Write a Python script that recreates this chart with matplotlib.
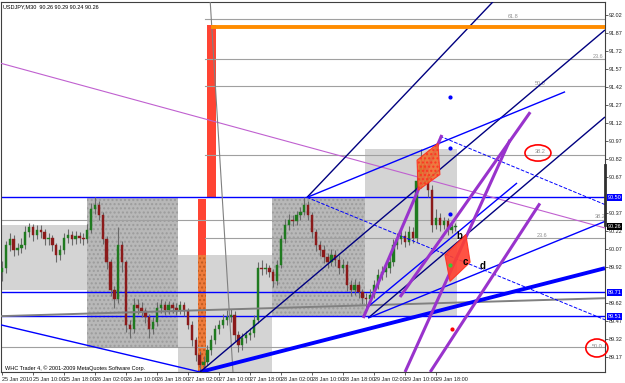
import matplotlib
matplotlib.use("Agg")
import matplotlib.pyplot as plt
import numpy as np
from matplotlib.patches import Rectangle, Polygon, Ellipse
from matplotlib.transforms import blended_transform_factory

plt.rcParams["font.family"] = ["Liberation Sans", "DejaVu Sans"]

# hourly candles, hours since 25 Jan 02:00
closes = [89.91, 90.10, 90.15, 90.06, 90.08, 90.10, 90.21, 90.25, 90.19, 90.23,
          90.21, 90.15, 90.16, 90.10, 90.02, 90.06, 90.16, 90.19, 90.15, 90.18,
          90.16, 90.15, 90.23, 90.40, 90.44, 90.35, 90.15, 89.96, 89.73, 89.65,
          90.10, 89.96, 89.44, 89.40, 89.60, 89.58, 89.55, 89.50, 89.40, 89.46,
          89.58, 89.60, 89.56, 89.60, 89.58, 89.56, 89.60, 89.55, 89.44, 89.31,
          89.19, 89.10, 89.13, 89.23, 89.31, 89.40, 89.44, 89.48, 89.50, 89.52,
          89.35, 89.27, 89.33, 89.35, 89.37, 89.48, 89.91, 89.90, 89.91, 89.88,
          89.80, 89.94, 90.15, 90.27, 90.31, 90.30, 90.35, 90.38, 90.44, 90.35,
          90.21, 90.10, 90.06, 90.00, 89.96, 90.02, 89.98, 89.91, 89.94, 89.77,
          89.73, 89.77, 89.71, 89.66, 89.65, 89.69, 89.77, 89.85, 89.88, 89.91,
          89.96, 90.10, 90.15, 90.18, 90.13, 90.21, 90.16, 90.64, 90.77, 90.69,
          90.56, 90.27, 90.33, 90.27, 90.30, 90.23, 90.25, 90.26]
highs = [89.97, 90.14, 90.20, 90.19, 90.12, 90.16, 90.26, 90.29, 90.28, 90.27,
         90.27, 90.24, 90.20, 90.19, 90.12, 90.10, 90.20, 90.24, 90.22, 90.22,
         90.21, 90.20, 90.28, 90.45, 90.50, 90.47, 90.38, 90.18, 89.99, 89.76,
         90.25, 90.14, 89.98, 89.48, 89.66, 89.65, 89.63, 89.58, 89.53, 89.50,
         89.63, 89.65, 89.64, 89.64, 89.63, 89.62, 89.64, 89.63, 89.58, 89.47,
         89.34, 89.22, 89.18, 89.27, 89.35, 89.44, 89.48, 89.53, 89.56, 89.57,
         89.55, 89.39, 89.37, 89.39, 89.41, 89.52, 89.96, 89.98, 89.95, 89.94,
         89.90, 89.98, 90.19, 90.32, 90.36, 90.35, 90.39, 90.42, 90.50, 90.47,
         90.38, 90.24, 90.14, 90.10, 90.04, 90.07, 90.06, 90.02, 89.99, 89.97,
         89.81, 89.82, 89.80, 89.74, 89.70, 89.74, 89.81, 89.90, 89.93, 89.96,
         90.01, 90.15, 90.20, 90.23, 90.22, 90.26, 90.25, 90.72, 90.90, 90.84,
         90.74, 90.60, 90.40, 90.37, 90.34, 90.33, 90.29, 90.29]
lows = [89.80, 89.87, 90.05, 90.01, 90.02, 90.04, 90.07, 90.17, 90.14, 90.15,
        90.16, 90.10, 90.10, 90.05, 89.96, 89.98, 90.03, 90.12, 90.10, 90.11,
        90.12, 90.10, 90.12, 90.20, 90.36, 90.31, 90.11, 89.90, 89.68, 89.58,
        89.62, 89.88, 89.38, 89.33, 89.37, 89.53, 89.50, 89.45, 89.33, 89.36,
        89.43, 89.54, 89.52, 89.53, 89.54, 89.52, 89.53, 89.51, 89.40, 89.26,
        89.14, 89.06, 89.07, 89.10, 89.19, 89.28, 89.36, 89.41, 89.44, 89.46,
        89.30, 89.21, 89.23, 89.29, 89.31, 89.34, 89.45, 89.85, 89.86, 89.84,
        89.75, 89.77, 89.91, 90.12, 90.23, 90.26, 90.27, 90.31, 90.35, 90.31,
        90.16, 90.05, 90.01, 89.95, 89.91, 89.93, 89.93, 89.86, 89.87, 89.72,
        89.68, 89.69, 89.66, 89.61, 89.58, 89.61, 89.66, 89.74, 89.81, 89.84,
        89.87, 89.93, 90.07, 90.11, 90.09, 90.10, 90.12, 90.13, 90.58, 90.62,
        90.50, 90.21, 90.24, 90.22, 90.24, 90.19, 90.20, 90.22]
first_open = 89.88

time_labels = ["25 Jan 2010", "25 Jan 10:00", "25 Jan 18:00", "26 Jan 02:00",
               "26 Jan 10:00", "26 Jan 18:00", "27 Jan 02:00", "27 Jan 10:00",
               "27 Jan 18:00", "28 Jan 02:00", "28 Jan 10:00", "28 Jan 18:00",
               "29 Jan 02:00", "29 Jan 10:00", "29 Jan 18:00"]
time_ticks = [0, 8, 16, 24, 32, 40, 48, 56, 64, 72, 80, 88, 96, 104, 112]
price_ticks = [92.02, 91.87, 91.72, 91.57, 91.42, 91.27, 91.12, 90.97, 90.82,
               90.67, 90.37, 90.22, 90.07, 89.92, 89.62, 89.47, 89.32, 89.17]

# rectangles: (t0, t1, p0, p1)
light_boxes = [(-0.6, 21.9, 89.73, 90.27), (45.4, 69.7, 89.0, 90.02),
               (93.7, 117.4, 89.50, 90.90)]
dark_boxes = [(21.9, 45.4, 89.25, 90.50), (69.7, 93.7, 89.50, 90.50)]
red_boxes = [(52.9, 55.2, 90.50, 91.94), (50.6, 52.6, 89.0, 90.49)]

blue_levels = [90.50, 89.71, 89.51]
fib_levels = [91.99, 91.65, 91.43, 90.85, 90.16]
fib_full_levels = [90.31, 89.25]
fib_texts = [("61.8", 131.9, 92.01), ("23.6", 153.8, 91.67), ("50.0", 138.8, 91.45),
             ("38.2", 138.8, 90.88), ("23.6", 139.4, 90.18), ("38.2", 154.3, 90.34),
             ("50.0", 153.5, 89.26)]

# trend lines: ((t0, p0), (t1, p1), colour, width, style)
lines = [
    ((-0.6, 91.62), (155.6, 90.245), "#c060d0", 0.8, "-"),
    ((53.7, 92.145), (59.6, 89.045), "#808080", 0.8, "-"),
    ((-0.6, 89.51), (155.6, 89.66), "#808080", 1.4, "-"),
    ((-0.6, 89.44), (51.1, 89.045), "#0000ff", 1.0, "-"),
    ((51.1, 89.045), (155.6, 89.91), "#0000ff", 2.8, "-"),
    ((51.1, 89.045), (155.6, 91.895), "#000080", 1.0, "-"),
    ((94.5, 89.495), (155.6, 91.17), "#000080", 1.0, "-"),
    ((78.7, 90.50), (126.7, 92.13), "#000080", 1.0, "-"),
    ((78.7, 90.50), (145.3, 91.38), "#0000ff", 1.0, "-"),
    ((94.5, 89.59), (132.9, 90.62), "#0000ff", 1.0, "-"),
    ((94.5, 89.495), (155.6, 90.30), "#0000ff", 1.0, "-"),
    ((78.7, 90.50), (155.6, 89.48), "#0000ff", 0.7, "--"),
    ((113.0, 91.01), (155.6, 90.44), "#0000ff", 0.7, "--"),
    ((93.2, 89.495), (113.5, 91.02), "#9933cc", 2.2, "-"),
    ((102.7, 89.67), (136.3, 91.21), "#9933cc", 2.2, "-"),
    ((104.0, 89.045), (131.1, 90.98), "#9933cc", 2.2, "-"),
    ((110.5, 89.045), (138.8, 90.45), "#9933cc", 2.2, "-"),
]
orange_level = (54.5, 91.92)

zone1 = [(107.1, 90.81), (112.5, 90.95), (113.0, 90.69), (107.4, 90.56)]
zone2 = [(114.3, 90.02), (119.7, 90.19), (120.8, 89.96), (115.6, 89.80)]
blue_dots = [(115.6, 91.34), (115.6, 90.91), (115.6, 90.36)]
red_dots = [(116.1, 89.40)]
green_dots = [(115.6, 89.94)]
letters = [("b", 117.9, 90.18), ("c", 119.5, 89.96), ("d", 124.1, 89.93)]
circles = [(138.3, 90.87, 6.7, 0.135), (153.5, 89.245, 5.7, 0.15)]

fig = plt.figure(figsize=(6.25, 3.83), dpi=100)
ax = fig.add_axes([1 / 625, 1 - 372 / 383, 604 / 625, 370 / 383])
ax.set_xlim(-0.26, 155.6)
ax.set_ylim(89.045, 92.128)
ax.set_facecolor("white")

for t0, t1, p0, p1 in light_boxes:
    ax.add_patch(Rectangle((t0, p0), t1 - t0, p1 - p0, facecolor="#d4d4d4",
                           edgecolor="none", zorder=0))
for t0, t1, p0, p1 in dark_boxes:
    ax.add_patch(Rectangle((t0, p0), t1 - t0, p1 - p0, facecolor="#b8b8b8",
                           edgecolor="#9c9c9c", hatch="....", lw=0, zorder=0))
for t0, t1, p0, p1 in red_boxes:
    ax.add_patch(Rectangle((t0, p0), t1 - t0, p1 - p0, facecolor="#ff4433",
                           edgecolor="none", zorder=0.5))
# lower part of the left red box sits on the grey box, looks orange
rb = red_boxes[1]
ax.add_patch(Rectangle((rb[0], rb[2]), rb[1] - rb[0], 90.02 - rb[2], facecolor="#ee7a3a",
                       edgecolor="#c05a20", hatch="....", lw=0, zorder=0.6))

for p in fib_levels:
    ax.plot([52.4, 155.6], [p, p], color="#a0a0a0", lw=0.8, zorder=1)
for p in fib_full_levels:
    ax.plot([-0.6, 155.6], [p, p], color="#a0a0a0", lw=0.8, zorder=1)
for txt, t, p in fib_texts:
    ax.text(t, p, txt, fontsize=4, color="#909090", ha="center", va="center", zorder=1)

for p in blue_levels:
    ax.plot([-0.6, 155.6], [p, p], color="#0000ff", lw=1.0, zorder=2)

# candles
opens = [first_open] + closes[:-1]
hours = np.arange(len(closes))
ax.vlines(hours, lows, highs, color="#6a6a6a", lw=0.8, zorder=3)
for h, o, c in zip(hours, opens, closes):
    col = "#1f7a1f" if c >= o else "#8b1a1a"
    ax.add_patch(Rectangle((h - 0.3, min(o, c)), 0.6, max(abs(c - o), 0.01),
                           facecolor=col, edgecolor=col, lw=0.3, zorder=3.5))

for (t0, p0), (t1, p1), col, lw, ls in lines:
    ax.plot([t0, t1], [p0, p1], color=col, lw=lw, ls=ls, zorder=4,
            solid_capstyle="butt")

ax.plot([orange_level[0], 155.6], [orange_level[1]] * 2, color="#ff8c00", lw=2.8,
        zorder=4)

ax.add_patch(Polygon(zone1, closed=True, facecolor="#f07030", edgecolor="#ff3020",
                     hatch="....", lw=0.8, zorder=5, alpha=0.9))
ax.add_patch(Polygon(zone2, closed=True, facecolor="#ff4030", edgecolor="#ff3020",
                     lw=0.8, zorder=5, alpha=0.9))

for t, p in blue_dots:
    ax.plot(t, p, "o", color="#0000ff", ms=2, zorder=6)
for t, p in red_dots:
    ax.plot(t, p, "o", color="#ff0000", ms=2, zorder=6)
for t, p in green_dots:
    ax.plot(t, p, "o", color="#33cc33", ms=2, zorder=6)
for txt, t, p in letters:
    ax.text(t, p, txt, fontsize=7, fontweight="bold", color="black", ha="center",
            va="center", zorder=7)
for t, p, w, hgt in circles:
    ax.add_patch(Ellipse((t, p), w, hgt, fill=False, edgecolor="#ff0000", lw=1.2,
                         zorder=7, clip_on=False))

# axes look
for s in ax.spines.values():
    s.set_color("#404040")
    s.set_linewidth(0.8)
ax.yaxis.tick_right()
ax.set_yticks(price_ticks)
ax.set_yticklabels([f"{p:.2f}" for p in price_ticks], fontsize=4)
ax.tick_params(axis="y", length=2, width=0.5, pad=1, colors="#202020")
ax.set_xticks(time_ticks)
ax.set_xticklabels(time_labels, fontsize=4, ha="left")
ax.tick_params(axis="x", length=2, width=0.5, pad=1.5, colors="#202020")

trans = blended_transform_factory(ax.transAxes, ax.transData)
for p, face in [(90.50, "#0000ff"), (89.71, "#0000ff"), (89.51, "#0000ff"),
                (90.26, "#000000")]:
    ax.text(1.004, p, f"{p:.2f}", transform=trans, fontsize=4, color="white",
            ha="left", va="center", zorder=8,
            bbox=dict(boxstyle="square,pad=0.15", facecolor=face, edgecolor="none"))
ax.plot([1.0, 1.0], [90.77, 90.27], transform=trans, color="#303030", lw=2,
        clip_on=False, zorder=8)

ax.text(0.004, 0.993, "USDJPY,M30  90.26 90.29 90.24 90.26", transform=ax.transAxes,
        fontsize=4, ha="left", va="top", zorder=9)
ax.text(0.006, 0.004, "WHC Trader 4, \u00a9 2001-2009 MetaQuotes Software Corp.",
        transform=ax.transAxes, fontsize=4, ha="left", va="bottom", zorder=9)

fig.savefig("out.png", dpi=100, facecolor="white")
